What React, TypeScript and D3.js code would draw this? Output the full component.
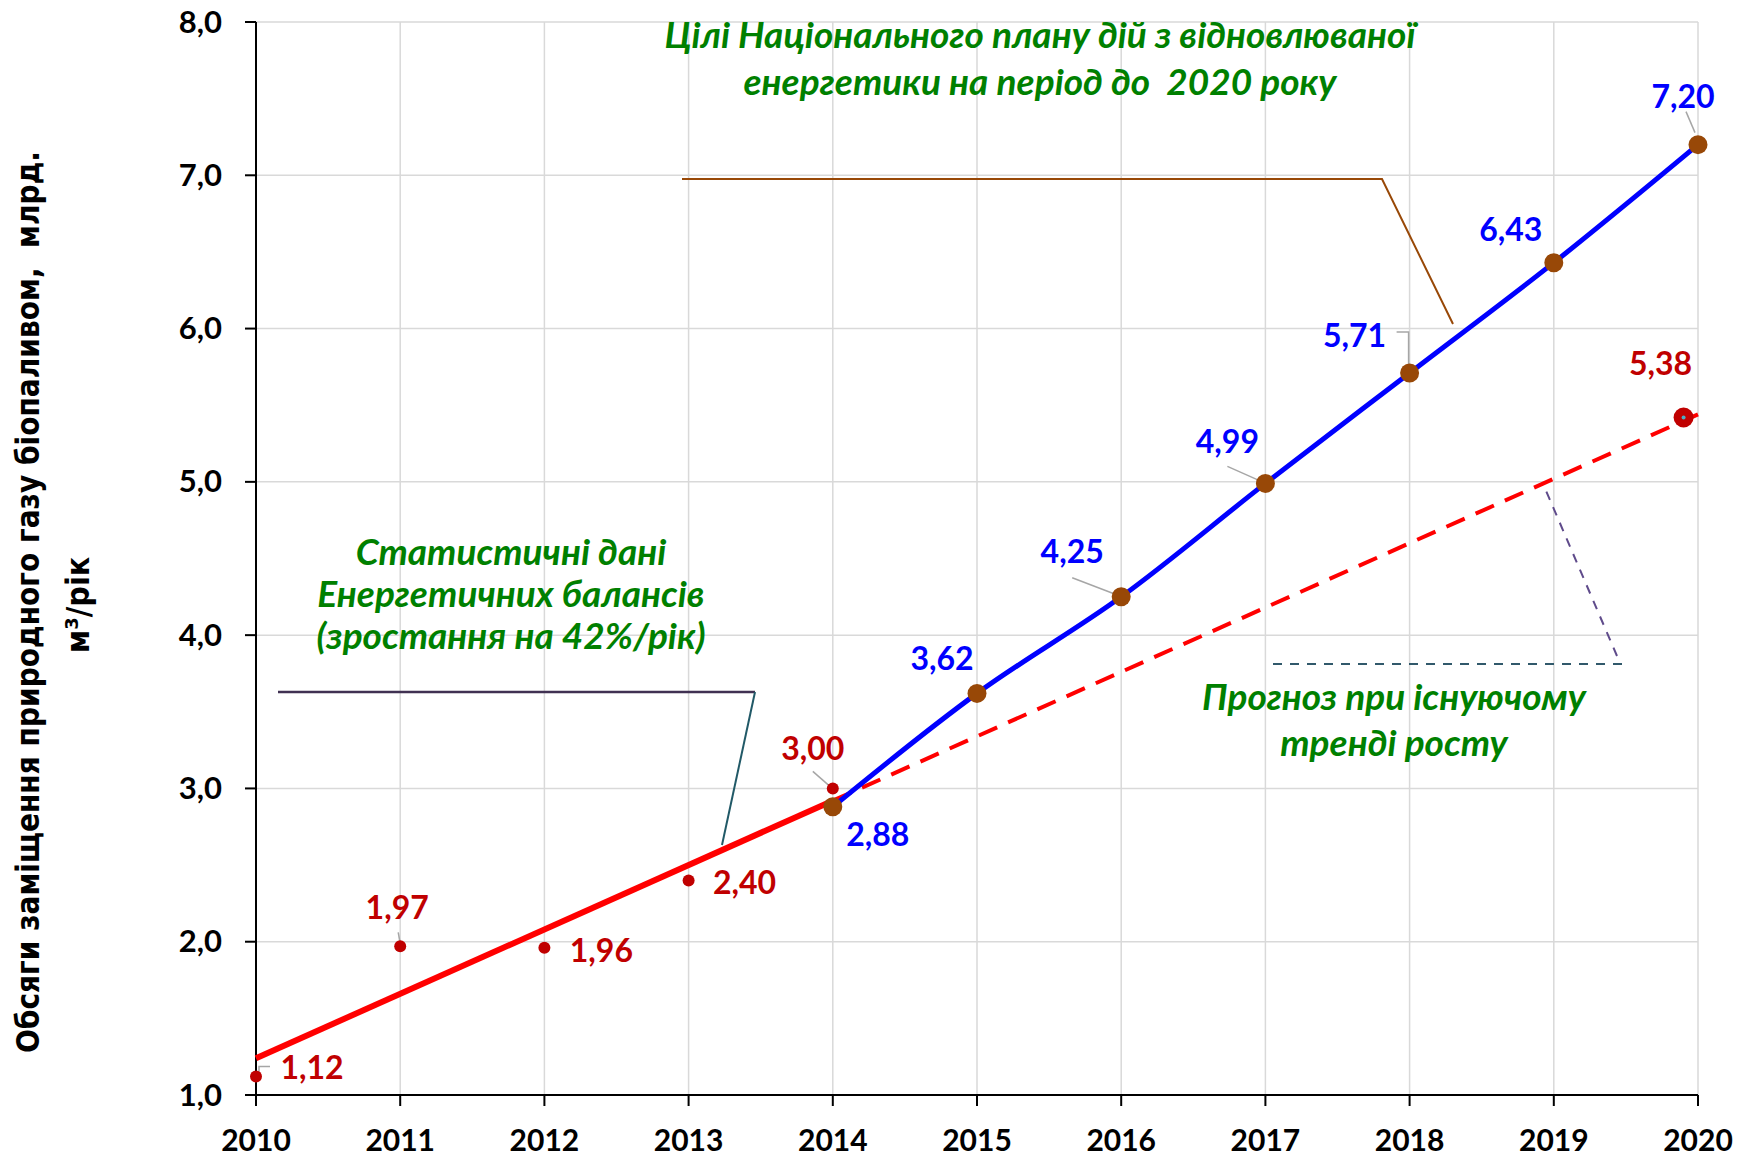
import React from "react";
import * as d3 from "d3";

// ---------- data ----------
const years = [2010, 2011, 2012, 2013, 2014, 2015, 2016, 2017, 2018, 2019, 2020];
const yTicks = [1, 2, 3, 4, 5, 6, 7, 8];

// statistical data (energy balances)
const statYears = [2010, 2011, 2012, 2013, 2014];
const statValues = [1.12, 1.97, 1.96, 2.4, 3.0];
const statLabels = ["1,12", "1,97", "1,96", "2,40", "3,00"];

// national action plan targets
const planYears = [2014, 2015, 2016, 2017, 2018, 2019, 2020];
const planValues = [2.88, 3.62, 4.25, 4.99, 5.71, 6.43, 7.2];
const planLabels = ["2,88", "3,62", "4,25", "4,99", "5,71", "6,43", "7,20"];

// linear trend (solid part = fitted, dashed part = forecast)
const trendYears = [2010, 2014];
const trendValues = [1.24, 2.92];
const forecastYears = [2014, 2020];
const forecastValues = [2.92, 5.44];

// forecast end point
const forecastPointYear = [2019.9];
const forecastPointValue = [5.42];
const forecastPointLabel = ["5,38"];

const yAxisTitle1 = "Обсяги заміщення природного газу біопаливом,  млрд.";
const yAxisTitle2 = "м³/рік";
const noteTargets = ["Цілі Національного плану дій з відновлюваної", "енергетики на період до  2020 року"];
const noteStats = ["Статистичні дані", "Енергетичних балансів", "(зростання на 42%/рік)"];
const noteForecast = ["Прогноз при існуючому", "тренді росту"];

// ---------- layout (label offsets relative to their points) ----------
const statLabelOff = [[56, -9], [-3, -39], [57, 3], [56, 2], [-20, -40]];
const planLabelOff = [[45, 28], [-35, -35], [-49, -45], [-38, -42], [-55, -38], [-43, -33], [-15, -48]];
const forecastLabelOff = [[-23, -54]];
// leader polylines relative to points (null = none)
const statLeaders: (number[][] | null)[] = [
  [[14, -10], [3, -10], [3, -4]],
  [[-2, -14], [0, -3]],
  null,
  null,
  [[-20, -17], [-4, -3]],
];
const planLeaders: (number[][] | null)[] = [
  null,
  null,
  [[-49, -19], [-2, -1]],
  [[-38, -17], [-2, -1]],
  [[-13, -41], [-1, -41], [-1, -8]],
  null,
  [[-12, -33], [-3, -12]],
];

const W = 1748;
const H = 1156;
const X0 = 256, X1 = 1698, Y0 = 1095, Y1 = 22;

const FONT = "Lato, 'Open Sans', sans-serif";

export default function App() {
  const x = d3.scaleLinear().domain([2010, 2020]).range([X0, X1]);
  const y = d3.scaleLinear().domain([1, 8]).range([Y0, Y1]);

  const straight = d3.line<[number, number]>().x(d => x(d[0])).y(d => y(d[1]));
  const smooth = d3
    .line<[number, number]>()
    .x(d => x(d[0]))
    .y(d => y(d[1]))
    .curve(d3.curveCatmullRom.alpha(0.5));

  const trendPts = trendYears.map((t, i) => [t, trendValues[i]] as [number, number]);
  const fcPts = forecastYears.map((t, i) => [t, forecastValues[i]] as [number, number]);
  const planPts = planYears.map((t, i) => [t, planValues[i]] as [number, number]);

  const leaderPath = (px: number, py: number, pts: number[][]) =>
    pts.map((p, i) => `${i ? "L" : "M"}${px + p[0]},${py + p[1]}`).join("");

  const red = "#C00000";
  const blue = "#0000FF";
  const green = "#008000";
  const brown = "#984807";
  const pre = { whiteSpace: "pre" as const };

  return (
    <svg
      width={W}
      height={H}
      style={{ position: "absolute", left: 0, top: 0, background: "#fff" }}
      fontFamily={FONT}
    >
      <rect width={W} height={H} fill="#fff" />
      {/* grid */}
      {yTicks.map(t => (
        <line key={"gy" + t} x1={X0} x2={X1} y1={y(t)} y2={y(t)} stroke="#D9D9D9" strokeWidth={1.5} />
      ))}
      {years.map(t => (
        <line key={"gx" + t} x1={x(t)} x2={x(t)} y1={Y1} y2={Y0} stroke="#D9D9D9" strokeWidth={1.5} />
      ))}
      {/* axes */}
      <line x1={X0} x2={X0} y1={Y1} y2={Y0} stroke="#000" strokeWidth={2} />
      <line x1={X0} x2={X1} y1={Y0} y2={Y0} stroke="#000" strokeWidth={2} />
      {yTicks.map(t => (
        <g key={"ty" + t}>
          <line x1={X0 - 11} x2={X0} y1={y(t)} y2={y(t)} stroke="#000" strokeWidth={2} />
          <text x={222} y={y(t) + 10.5} textAnchor="end" fontSize={31} fontWeight="bold" fill="#000">
            {t.toFixed(1).replace(".", ",")}
          </text>
        </g>
      ))}
      {years.map(t => (
        <g key={"tx" + t}>
          <line x1={x(t)} x2={x(t)} y1={Y0} y2={Y0 + 11} stroke="#000" strokeWidth={2} />
          <text x={x(t)} y={1151} textAnchor="middle" fontSize={30} fontWeight="bold" fill="#000">
            {t}
          </text>
        </g>
      ))}

      {/* y axis title */}
      <g transform="translate(28,602) rotate(-90)">
        <text
          x={0}
          y={11}
          textAnchor="middle"
          fontSize={32}
          fontWeight="bold"
          fontFamily="'Liberation Sans Narrow', 'DejaVu Sans Condensed', sans-serif"
          textLength={902}
          lengthAdjust="spacingAndGlyphs"
          style={pre}
        >
          {yAxisTitle1}
        </text>
      </g>
      <g transform="translate(78,605) rotate(-90)">
        <text
          x={0}
          y={11}
          textAnchor="middle"
          fontSize={32}
          fontWeight="bold"
          fontFamily="'Liberation Sans Narrow', 'DejaVu Sans Condensed', sans-serif"
        >
          {yAxisTitle2}
        </text>
      </g>

      {/* trend lines */}
      <path d={straight(trendPts) || ""} fill="none" stroke="#FF0000" strokeWidth={6} />
      <path d={straight(fcPts) || ""} fill="none" stroke="#FF0000" strokeWidth={4} strokeDasharray="20 12" />

      {/* plan line */}
      <path d={smooth(planPts) || ""} fill="none" stroke={blue} strokeWidth={5} />

      {/* leaders */}
      {statYears.map((t, i) =>
        statLeaders[i] ? (
          <path key={"sl" + i} d={leaderPath(x(t), y(statValues[i]), statLeaders[i]!)} fill="none" stroke="#A6A6A6" strokeWidth={1.5} />
        ) : null
      )}
      {planYears.map((t, i) =>
        planLeaders[i] ? (
          <path key={"pl" + i} d={leaderPath(x(t), y(planValues[i]), planLeaders[i]!)} fill="none" stroke="#A6A6A6" strokeWidth={1.5} />
        ) : null
      )}

      {/* markers */}
      {statYears.map((t, i) => (
        <circle key={"sm" + i} cx={x(t)} cy={y(statValues[i])} r={6} fill={red} />
      ))}
      {planYears.map((t, i) => (
        <circle key={"pm" + i} cx={x(t)} cy={y(planValues[i])} r={9.5} fill={brown} />
      ))}
      {forecastPointYear.map((t, i) => (
        <g key={"fp" + i}>
          <circle cx={x(t)} cy={y(forecastPointValue[i])} r={10} fill={red} />
          <circle cx={x(t)} cy={y(forecastPointValue[i])} r={2} fill="#4BACC6" />
        </g>
      ))}

      {/* data labels */}
      {statYears.map((t, i) => (
        <text
          key={"stl" + i}
          x={x(t) + statLabelOff[i][0]}
          y={y(statValues[i]) + statLabelOff[i][1] + 11.5}
          textAnchor="middle"
          fontSize={32}
          fontWeight="bold"
          fill={red}
        >
          {statLabels[i]}
        </text>
      ))}
      {planYears.map((t, i) => (
        <text
          key={"ptl" + i}
          x={x(t) + planLabelOff[i][0]}
          y={y(planValues[i]) + planLabelOff[i][1] + 11.5}
          textAnchor="middle"
          fontSize={32}
          fontWeight="bold"
          fill={blue}
        >
          {planLabels[i]}
        </text>
      ))}
      {forecastPointYear.map((t, i) => (
        <text
          key={"fpl" + i}
          x={x(t) + forecastLabelOff[i][0]}
          y={y(forecastPointValue[i]) + forecastLabelOff[i][1] + 11.5}
          textAnchor="middle"
          fontSize={32}
          fontWeight="bold"
          fill={red}
        >
          {forecastPointLabel[i]}
        </text>
      ))}

      {/* annotation callouts */}
      <path d="M682,179 L1382,179 L1453,324" fill="none" stroke={brown} strokeWidth={2} />
      <path d="M278,692 L755,692" fill="none" stroke="#403152" strokeWidth={2.5} />
      <path d="M755,692 L722,845" fill="none" stroke="#215967" strokeWidth={2} />
      <path d="M1273,664 L1625,664" fill="none" stroke="#31596B" strokeWidth={2} strokeDasharray="9 8" />
      <path d="M1617,656 L1544,486" fill="none" stroke="#5F4B8B" strokeWidth={2} strokeDasharray="9 8" />

      {/* annotation texts */}
      <g fill={green} fontWeight="bold" fontStyle="italic" fontSize={37} textAnchor="middle">
        {noteTargets.map((s, i) => (
          <text key={"nt" + i} x={1040} y={48 + i * 47} style={pre}>
            {s}
          </text>
        ))}
        {noteStats.map((s, i) => (
          <text key={"ns" + i} x={511} y={565 + i * 42} style={pre}>
            {s}
          </text>
        ))}
        {noteForecast.map((s, i) => (
          <text key={"nf" + i} x={1394} y={710 + i * 46} style={pre}>
            {s}
          </text>
        ))}
      </g>
    </svg>
  );
}
